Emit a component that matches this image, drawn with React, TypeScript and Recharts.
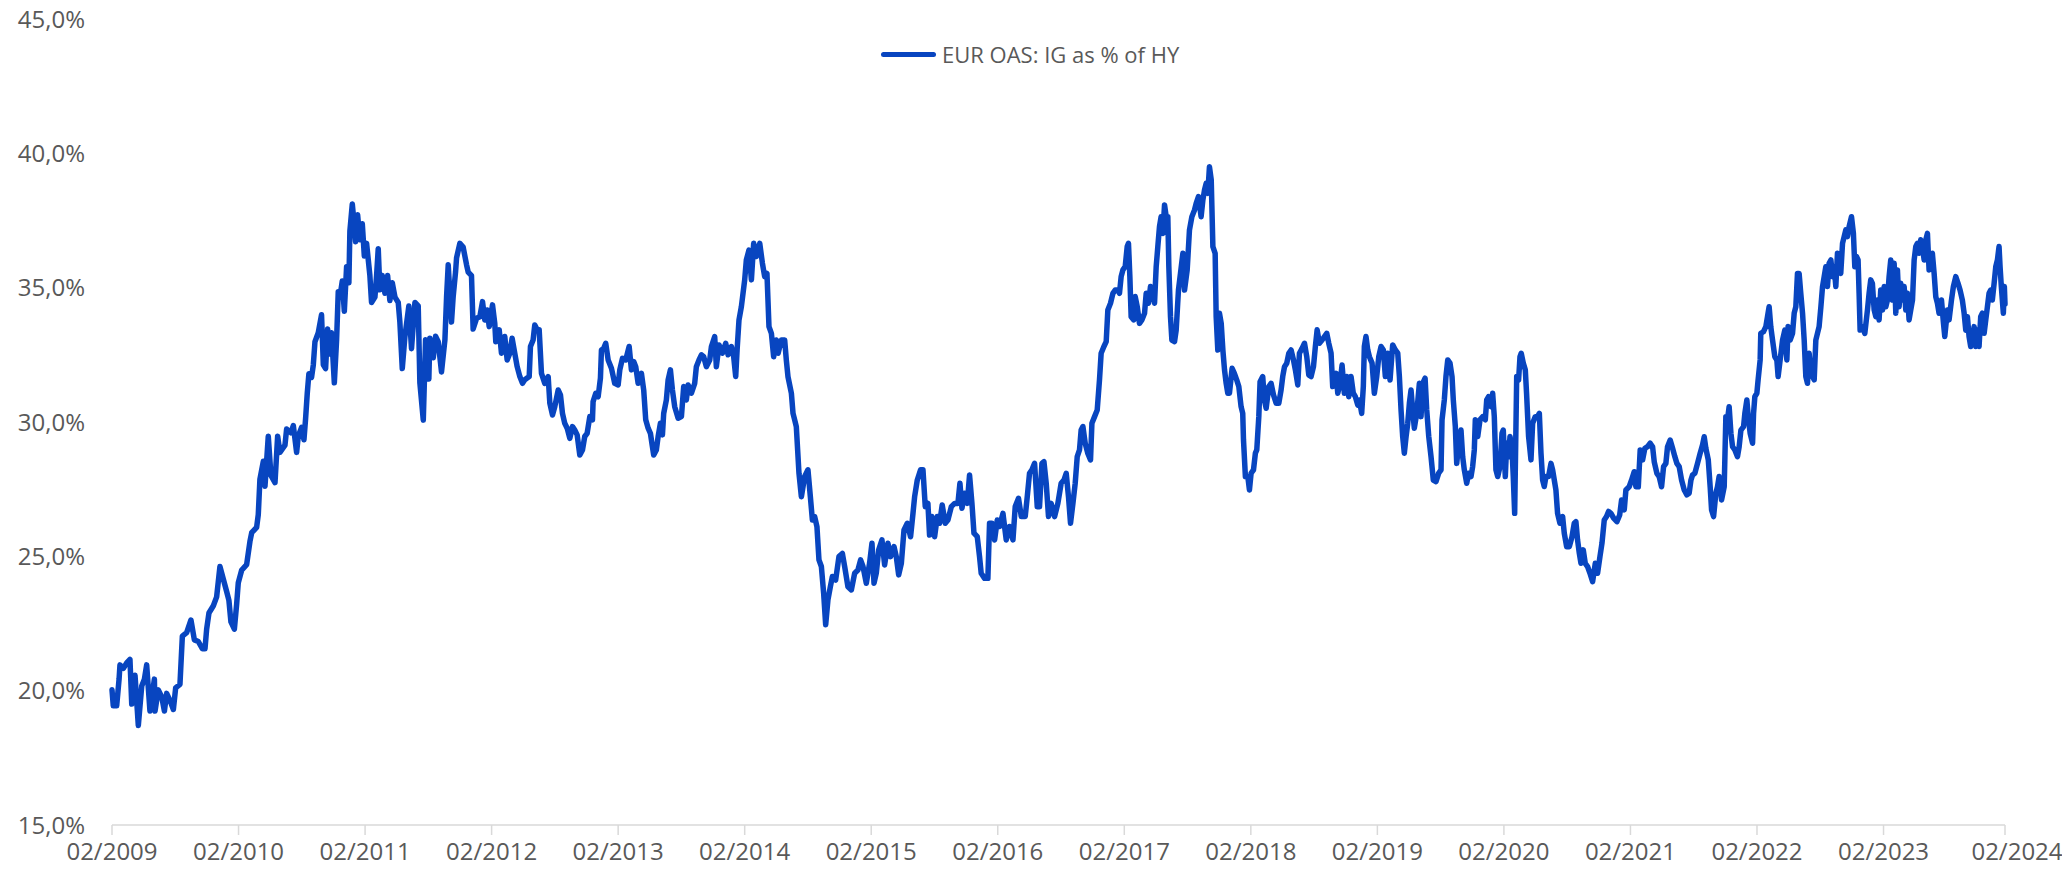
import { Line, LineChart, XAxis, YAxis } from "recharts";

// EUR OAS: IG spread as % of HY spread, [decimal year, %]
const obs2009to2011: [number, number][] = [
  [2009.085, 20.03], [2009.095, 19.44], [2009.122, 19.44], [2009.141, 20.43], [2009.148, 20.96], [2009.175, 20.83],
  [2009.201, 21.03], [2009.227, 21.16], [2009.241, 19.5], [2009.267, 20.57], [2009.293, 18.7], [2009.32, 20.17],
  [2009.341, 20.43], [2009.359, 20.96], [2009.385, 19.24], [2009.42, 20.43], [2009.425, 19.24], [2009.451, 20.03],
  [2009.478, 19.77], [2009.499, 19.24], [2009.517, 19.9], [2009.543, 19.64], [2009.57, 19.3], [2009.588, 20.1],
  [2009.622, 20.23], [2009.641, 22.03], [2009.675, 22.16], [2009.709, 22.63], [2009.736, 21.89], [2009.767, 21.83],
  [2009.799, 21.56], [2009.82, 21.56], [2009.833, 22.29], [2009.851, 22.89], [2009.886, 23.16], [2009.912, 23.49],
  [2009.938, 24.62], [2009.965, 24.15], [2009.991, 23.69], [2010.009, 23.36], [2010.025, 22.56], [2010.052, 22.29],
  [2010.07, 23.22], [2010.083, 24.02], [2010.11, 24.49], [2010.149, 24.69], [2010.175, 25.55], [2010.189, 25.88],
  [2010.228, 26.08], [2010.241, 26.55], [2010.254, 27.87], [2010.281, 28.54], [2010.294, 27.61], [2010.32, 29.47],
  [2010.341, 28.01], [2010.373, 27.74], [2010.394, 29.47], [2010.412, 28.87], [2010.452, 29.14], [2010.465, 29.74],
  [2010.499, 29.6], [2010.518, 29.87], [2010.544, 28.87], [2010.557, 29.47], [2010.583, 29.8], [2010.602, 29.34],
  [2010.615, 30.13], [2010.628, 31.06], [2010.641, 31.8], [2010.662, 31.66], [2010.676, 32.13], [2010.689, 32.99],
  [2010.715, 33.32], [2010.741, 33.99], [2010.755, 32.13], [2010.773, 31.99], [2010.789, 33.46], [2010.807, 32.53],
  [2010.82, 33.32], [2010.842, 31.46], [2010.86, 33.06], [2010.873, 34.85], [2010.886, 34.65], [2010.905, 35.25],
  [2010.921, 34.12], [2010.939, 35.78], [2010.957, 35.18], [2010.965, 37.11], [2010.984, 38.11], [2011.0, 37.31],
  [2011.01, 36.71], [2011.026, 37.71], [2011.044, 36.78], [2011.063, 37.38], [2011.079, 36.18], [2011.097, 36.65],
  [2011.123, 35.45], [2011.136, 34.45], [2011.163, 34.65], [2011.176, 35.45], [2011.189, 36.45], [2011.202, 34.92],
  [2011.221, 35.45], [2011.242, 34.79], [2011.263, 35.45], [2011.281, 34.52], [2011.3, 35.18], [2011.321, 34.65],
  [2011.347, 34.45], [2011.36, 33.72], [2011.379, 31.99], [2011.4, 33.19], [2011.431, 34.32], [2011.452, 32.73],
  [2011.479, 34.45], [2011.505, 34.32], [2011.518, 31.46], [2011.545, 30.07], [2011.563, 33.06], [2011.589, 31.6],
  [2011.597, 33.12], [2011.624, 32.39], [2011.642, 33.19], [2011.663, 32.99], [2011.689, 31.86], [2011.716, 33.06],
  [2011.729, 34.65], [2011.742, 35.85], [2011.768, 33.72], [2011.781, 34.65], [2011.8, 35.58], [2011.808, 36.11],
  [2011.834, 36.65], [2011.86, 36.51], [2011.887, 35.85], [2011.9, 35.58], [2011.926, 35.45], [2011.939, 33.46],
  [2011.966, 33.86],
];

const obs2012to2014: [number, number][] = [
  [2011.992, 33.92], [2012.013, 34.48], [2012.031, 33.8], [2012.05, 34.17], [2012.066, 33.55], [2012.092, 34.36],
  [2012.11, 33.67], [2012.118, 32.99], [2012.145, 33.43], [2012.163, 32.56], [2012.189, 33.18], [2012.208, 32.31],
  [2012.229, 32.56], [2012.247, 33.12], [2012.268, 32.56], [2012.287, 32.06], [2012.308, 31.69], [2012.329, 31.44],
  [2012.347, 31.57], [2012.382, 31.69], [2012.392, 32.81], [2012.413, 33.05], [2012.426, 33.61], [2012.445, 33.43],
  [2012.461, 33.43], [2012.479, 31.81], [2012.505, 31.44], [2012.532, 31.69], [2012.545, 30.7], [2012.566, 30.26],
  [2012.584, 30.57], [2012.611, 31.19], [2012.629, 31.01], [2012.645, 30.32], [2012.663, 29.95], [2012.682, 29.77],
  [2012.703, 29.39], [2012.724, 29.83], [2012.742, 29.7], [2012.761, 29.52], [2012.782, 28.77], [2012.803, 28.96],
  [2012.821, 29.46], [2012.84, 29.58], [2012.861, 30.2], [2012.882, 30.08], [2012.887, 30.76], [2012.908, 31.07],
  [2012.927, 30.94], [2012.945, 31.63], [2012.953, 32.68], [2012.971, 32.74], [2012.987, 32.93], [2013.006, 32.31],
  [2013.032, 32.0], [2013.058, 31.44], [2013.085, 31.38], [2013.098, 31.94], [2013.119, 32.37], [2013.145, 32.31],
  [2013.172, 32.81], [2013.19, 31.94], [2013.208, 32.25], [2013.224, 32.06], [2013.243, 31.44], [2013.269, 31.81],
  [2013.287, 31.19], [2013.303, 30.08], [2013.322, 29.77], [2013.34, 29.58], [2013.356, 29.08], [2013.366, 28.77],
  [2013.387, 28.96], [2013.401, 29.46], [2013.419, 29.95], [2013.435, 29.52], [2013.445, 30.32], [2013.466, 30.82],
  [2013.48, 31.57], [2013.498, 31.94], [2013.514, 31.19], [2013.532, 30.57], [2013.559, 30.14], [2013.585, 30.2],
  [2013.603, 31.32], [2013.624, 30.82], [2013.638, 31.38], [2013.664, 31.07], [2013.69, 31.44], [2013.703, 32.06],
  [2013.724, 32.31], [2013.743, 32.5], [2013.761, 32.43], [2013.782, 32.06], [2013.809, 32.31], [2013.822, 32.81],
  [2013.848, 33.18], [2013.861, 32.06], [2013.882, 32.87], [2013.909, 32.56], [2013.935, 32.93], [2013.954, 32.5],
  [2013.98, 32.81], [2013.998, 32.43], [2014.014, 31.69], [2014.025, 32.68], [2014.04, 33.8], [2014.059, 34.3],
  [2014.085, 35.29], [2014.098, 36.03], [2014.119, 36.4], [2014.138, 35.29], [2014.156, 36.65], [2014.177, 36.16],
  [2014.204, 36.65], [2014.225, 35.91], [2014.243, 35.41], [2014.261, 35.53], [2014.277, 33.55], [2014.296, 33.3],
  [2014.314, 32.43], [2014.335, 33.05], [2014.349, 32.56], [2014.375, 33.05], [2014.401, 33.05], [2014.414, 32.31],
  [2014.427, 31.69], [2014.454, 31.07], [2014.467, 30.32], [2014.48, 30.08], [2014.493, 29.83], [2014.514, 28.09],
  [2014.533, 27.22], [2014.559, 27.97], [2014.585, 28.22], [2014.604, 27.22], [2014.62, 26.35], [2014.638, 26.48],
  [2014.656, 26.11], [2014.672, 24.87], [2014.691, 24.62], [2014.709, 23.63], [2014.725, 22.45], [2014.743, 23.38],
  [2014.762, 23.87], [2014.778, 24.25], [2014.804, 24.12], [2014.83, 24.99], [2014.857, 25.11], [2014.875, 24.62],
  [2014.901, 23.87], [2014.928, 23.75], [2014.954, 24.37],
];

const obs2015to2017: [number, number][] = [
  [2014.98, 24.49], [2015.001, 24.87], [2015.02, 24.62], [2015.046, 24.0], [2015.072, 24.74], [2015.091, 25.49],
  [2015.107, 24.0], [2015.125, 24.37], [2015.144, 25.24], [2015.17, 25.61], [2015.191, 24.68], [2015.217, 25.49],
  [2015.238, 24.99], [2015.265, 25.36], [2015.283, 24.99], [2015.302, 24.31], [2015.323, 24.74], [2015.344, 25.98],
  [2015.37, 26.23], [2015.396, 25.73], [2015.415, 26.6], [2015.428, 27.22], [2015.449, 27.84], [2015.475, 28.22],
  [2015.494, 28.22], [2015.512, 26.85], [2015.533, 26.97], [2015.546, 25.79], [2015.565, 26.48], [2015.586, 25.73],
  [2015.607, 26.48], [2015.625, 26.23], [2015.646, 26.91], [2015.67, 26.23], [2015.691, 26.35], [2015.718, 26.85],
  [2015.744, 26.97], [2015.77, 26.97], [2015.786, 27.72], [2015.802, 26.79], [2015.823, 27.35], [2015.844, 26.97],
  [2015.862, 28.03], [2015.881, 26.97], [2015.897, 25.86], [2015.923, 25.73], [2015.941, 24.99], [2015.954, 24.37],
  [2015.981, 24.18], [2016.007, 24.18], [2016.02, 26.23], [2016.039, 26.23], [2016.06, 25.61], [2016.081, 26.35],
  [2016.099, 26.11], [2016.126, 26.6], [2016.152, 25.61], [2016.178, 26.11], [2016.205, 25.61], [2016.223, 26.85],
  [2016.249, 27.16], [2016.271, 26.48], [2016.302, 26.48], [2016.318, 27.22], [2016.336, 28.09], [2016.355, 28.22],
  [2016.376, 28.46], [2016.397, 26.85], [2016.415, 26.85], [2016.434, 28.46], [2016.45, 28.52], [2016.468, 27.72],
  [2016.486, 26.48], [2016.507, 26.97], [2016.534, 26.48], [2016.56, 26.97], [2016.586, 27.72], [2016.608, 27.84],
  [2016.626, 28.09], [2016.644, 27.22], [2016.66, 26.23], [2016.679, 26.97], [2016.697, 27.72], [2016.713, 28.71],
  [2016.731, 28.96], [2016.744, 29.7], [2016.758, 29.83], [2016.776, 29.21], [2016.797, 28.83], [2016.818, 28.59],
  [2016.829, 29.95], [2016.85, 30.2], [2016.871, 30.45], [2016.889, 31.57], [2016.902, 32.56], [2016.924, 32.81],
  [2016.942, 32.99], [2016.955, 34.17], [2016.976, 34.42], [2016.995, 34.79], [2017.013, 34.91], [2017.034, 34.91],
  [2017.047, 34.79], [2017.06, 35.41], [2017.074, 35.66], [2017.092, 35.78], [2017.108, 36.53], [2017.118, 36.65],
  [2017.129, 35.41], [2017.139, 33.92], [2017.16, 33.8], [2017.171, 34.67], [2017.187, 34.3], [2017.205, 33.67],
  [2017.224, 33.8], [2017.245, 34.05], [2017.258, 34.79], [2017.276, 34.42], [2017.292, 35.04], [2017.311, 34.91],
  [2017.324, 34.42], [2017.337, 35.78], [2017.35, 36.53], [2017.363, 37.27], [2017.376, 37.64], [2017.39, 37.02],
  [2017.403, 38.08], [2017.416, 37.64], [2017.429, 37.64], [2017.437, 35.78], [2017.45, 33.92], [2017.461, 33.05],
  [2017.482, 32.99], [2017.495, 33.42], [2017.513, 34.91], [2017.529, 35.53], [2017.548, 36.28], [2017.561, 34.91],
  [2017.582, 35.66], [2017.6, 37.15], [2017.619, 37.64], [2017.64, 37.89], [2017.653, 38.14], [2017.671, 38.39],
  [2017.692, 37.64], [2017.706, 38.26], [2017.719, 38.64], [2017.732, 38.88], [2017.745, 38.51], [2017.758, 39.5],
  [2017.772, 39.01], [2017.785, 36.53], [2017.803, 36.28], [2017.811, 33.92], [2017.824, 32.68], [2017.837, 34.05],
  [2017.851, 33.67], [2017.864, 32.68], [2017.877, 31.94], [2017.89, 31.44], [2017.903, 31.07],
];

const obs2018to2020: [number, number][] = [
  [2017.916, 31.07], [2017.937, 32.0], [2017.955, 31.81], [2017.974, 31.56], [2017.99, 31.32], [2018.008, 30.57],
  [2018.021, 30.32], [2018.027, 29.33], [2018.042, 27.97], [2018.061, 27.97], [2018.074, 27.47], [2018.087, 28.09],
  [2018.106, 28.22], [2018.121, 28.84], [2018.132, 28.96], [2018.148, 30.2], [2018.158, 31.5], [2018.179, 31.69],
  [2018.192, 30.82], [2018.206, 30.51], [2018.227, 31.32], [2018.245, 31.44], [2018.264, 31.01], [2018.285, 30.7],
  [2018.306, 30.7], [2018.324, 31.19], [2018.337, 31.69], [2018.351, 32.06], [2018.369, 32.19], [2018.385, 32.56],
  [2018.403, 32.68], [2018.422, 32.31], [2018.437, 31.94], [2018.456, 31.38], [2018.469, 32.56], [2018.49, 32.74],
  [2018.509, 32.93], [2018.527, 32.43], [2018.543, 31.75], [2018.561, 31.69], [2018.58, 32.06], [2018.595, 32.81],
  [2018.609, 33.43], [2018.627, 32.93], [2018.648, 33.05], [2018.667, 33.18], [2018.685, 33.3], [2018.701, 32.93],
  [2018.719, 32.56], [2018.732, 31.32], [2018.745, 31.56], [2018.759, 31.81], [2018.772, 31.07], [2018.79, 31.44],
  [2018.806, 32.12], [2018.824, 31.07], [2018.843, 31.69], [2018.859, 30.94], [2018.877, 31.69], [2018.895, 31.07],
  [2018.911, 30.94], [2018.93, 30.63], [2018.943, 30.82], [2018.961, 30.32], [2018.974, 31.32], [2018.982, 32.81],
  [2018.995, 33.18], [2019.009, 32.68], [2019.022, 32.43], [2019.043, 32.19], [2019.061, 31.07], [2019.08, 31.69],
  [2019.096, 32.43], [2019.114, 32.81], [2019.132, 32.68], [2019.148, 31.69], [2019.167, 32.56], [2019.185, 31.56],
  [2019.206, 32.87], [2019.227, 32.68], [2019.246, 32.56], [2019.259, 31.69], [2019.272, 30.45], [2019.285, 29.46],
  [2019.298, 28.84], [2019.312, 29.46], [2019.325, 29.95], [2019.338, 30.7], [2019.351, 31.19], [2019.364, 30.45],
  [2019.377, 29.77], [2019.396, 30.32], [2019.417, 31.44], [2019.43, 30.2], [2019.443, 31.44], [2019.462, 31.63],
  [2019.475, 30.45], [2019.491, 29.46], [2019.509, 28.71], [2019.527, 27.84], [2019.548, 27.78], [2019.569, 28.09],
  [2019.588, 28.22], [2019.596, 30.08], [2019.614, 30.82], [2019.627, 31.69], [2019.641, 32.31], [2019.659, 32.19],
  [2019.675, 31.69], [2019.685, 30.82], [2019.701, 29.83], [2019.712, 28.46], [2019.728, 29.21], [2019.746, 29.7],
  [2019.759, 28.71], [2019.772, 28.22], [2019.791, 27.72], [2019.807, 28.09], [2019.825, 27.97], [2019.838, 28.34],
  [2019.851, 28.96], [2019.859, 30.08], [2019.878, 29.46], [2019.896, 30.08], [2019.917, 30.2], [2019.938, 30.08],
  [2019.949, 30.82], [2019.964, 30.94], [2019.983, 30.57], [2019.996, 31.07], [2020.009, 30.2], [2020.022, 28.22],
  [2020.036, 27.97], [2020.054, 28.34], [2020.07, 29.58], [2020.08, 29.7], [2020.096, 27.97], [2020.107, 29.21],
  [2020.122, 28.71], [2020.133, 29.46], [2020.149, 28.96], [2020.159, 27.97], [2020.17, 26.6], [2020.186, 31.69],
  [2020.201, 31.56], [2020.212, 32.43], [2020.222, 32.56], [2020.238, 32.19], [2020.254, 31.94], [2020.264, 31.07],
  [2020.28, 29.46], [2020.299, 28.59], [2020.312, 29.95], [2020.333, 30.2], [2020.351, 30.2], [2020.365, 30.32],
  [2020.378, 28.84], [2020.391, 27.84], [2020.404, 27.6], [2020.417, 27.97], [2020.438, 27.97], [2020.457, 28.46],
  [2020.47, 28.22], [2020.483, 27.84], [2020.496, 27.47], [2020.509, 26.6], [2020.528, 26.23], [2020.549, 26.48],
  [2020.562, 25.86], [2020.581, 25.36], [2020.602, 25.36], [2020.623, 25.73], [2020.641, 26.23], [2020.654, 26.29],
  [2020.667, 25.61], [2020.681, 25.11], [2020.694, 24.74], [2020.712, 25.24], [2020.728, 24.74], [2020.746, 24.62],
  [2020.765, 24.37], [2020.786, 24.06], [2020.807, 24.74], [2020.825, 24.37], [2020.844, 24.99], [2020.86, 25.49],
  [2020.878, 26.35], [2020.896, 26.48], [2020.912, 26.67],
];

const obs2021to2024: [number, number][] = [
  [2020.931, 26.6], [2020.952, 26.42], [2020.978, 26.29], [2021.0, 26.54], [2021.015, 27.1], [2021.036, 26.73],
  [2021.049, 27.47], [2021.075, 27.59], [2021.094, 27.84], [2021.115, 28.15], [2021.128, 27.59], [2021.147, 27.59],
  [2021.162, 28.96], [2021.181, 28.59], [2021.199, 29.02], [2021.22, 29.08], [2021.241, 29.21], [2021.26, 29.08],
  [2021.273, 28.52], [2021.294, 28.09], [2021.312, 27.97], [2021.331, 27.59], [2021.347, 28.34], [2021.365, 28.46],
  [2021.378, 29.08], [2021.399, 29.33], [2021.418, 29.02], [2021.436, 28.71], [2021.452, 28.46], [2021.47, 28.34],
  [2021.489, 27.84], [2021.51, 27.47], [2021.531, 27.29], [2021.549, 27.35], [2021.563, 27.84], [2021.576, 28.03],
  [2021.594, 28.09], [2021.615, 28.46], [2021.636, 28.84], [2021.655, 29.15], [2021.668, 29.45], [2021.681, 29.02],
  [2021.7, 28.59], [2021.715, 27.59], [2021.726, 26.73], [2021.742, 26.48], [2021.76, 27.35], [2021.773, 27.59],
  [2021.786, 27.97], [2021.805, 27.1], [2021.826, 27.59], [2021.839, 30.2], [2021.852, 30.08], [2021.865, 30.57],
  [2021.879, 29.58], [2021.892, 29.08], [2021.91, 28.96], [2021.931, 28.71], [2021.944, 29.08], [2021.958, 29.7],
  [2021.979, 29.83], [2021.989, 30.32], [2022.005, 30.82], [2022.016, 30.2], [2022.031, 29.58], [2022.05, 29.21],
  [2022.058, 30.32], [2022.068, 30.94], [2022.084, 31.07], [2022.094, 31.57], [2022.11, 32.31], [2022.115, 33.3],
  [2022.136, 33.36], [2022.155, 33.55], [2022.168, 33.92], [2022.181, 34.29], [2022.194, 33.55], [2022.208, 33.05],
  [2022.226, 32.43], [2022.242, 32.31], [2022.252, 31.69], [2022.268, 32.31], [2022.287, 33.05], [2022.305, 33.42],
  [2022.321, 32.31], [2022.331, 33.55], [2022.347, 33.05], [2022.366, 33.3], [2022.379, 34.05], [2022.392, 34.29],
  [2022.405, 35.53], [2022.418, 35.53], [2022.431, 34.79], [2022.445, 34.05], [2022.458, 33.05], [2022.471, 31.69],
  [2022.484, 31.44], [2022.497, 32.56], [2022.51, 31.81], [2022.524, 31.69], [2022.537, 31.57], [2022.55, 33.05],
  [2022.563, 33.3], [2022.576, 33.55], [2022.59, 34.29], [2022.603, 35.04], [2022.616, 35.41], [2022.629, 35.78],
  [2022.642, 35.04], [2022.655, 35.91], [2022.669, 36.03], [2022.682, 35.41], [2022.695, 35.78], [2022.708, 35.04],
  [2022.721, 36.28], [2022.734, 36.16], [2022.747, 35.53], [2022.761, 36.65], [2022.774, 36.9], [2022.787, 37.15],
  [2022.8, 36.9], [2022.813, 37.27], [2022.832, 37.64], [2022.847, 37.02], [2022.858, 35.78], [2022.871, 36.16],
  [2022.884, 36.03], [2022.892, 34.79], [2022.9, 33.42], [2022.919, 33.55], [2022.937, 33.3], [2022.958, 34.17],
  [2022.971, 34.79], [2022.984, 35.29], [2022.997, 35.16], [2023.011, 34.17], [2023.024, 33.92], [2023.037, 34.54],
  [2023.05, 33.8], [2023.063, 34.91], [2023.077, 34.17], [2023.09, 35.04], [2023.103, 34.29], [2023.116, 34.54],
  [2023.129, 35.41], [2023.142, 36.03], [2023.156, 34.54], [2023.169, 35.91], [2023.182, 34.05], [2023.195, 35.66],
  [2023.208, 34.29], [2023.221, 35.16], [2023.235, 34.54], [2023.248, 35.04], [2023.261, 34.17], [2023.274, 34.79],
  [2023.287, 33.8], [2023.3, 34.17], [2023.314, 34.54], [2023.327, 36.03], [2023.34, 36.53], [2023.353, 36.65],
  [2023.366, 36.28], [2023.379, 36.78], [2023.392, 36.53], [2023.406, 36.03], [2023.419, 36.78], [2023.432, 37.02],
  [2023.445, 35.66], [2023.458, 36.16], [2023.471, 36.28], [2023.485, 35.53], [2023.498, 34.66], [2023.511, 34.42],
  [2023.524, 34.05], [2023.543, 34.54], [2023.559, 33.67], [2023.569, 33.18], [2023.59, 34.17], [2023.603, 33.8],
  [2023.622, 34.54], [2023.637, 35.04], [2023.656, 35.41], [2023.674, 35.16], [2023.69, 34.91], [2023.708, 34.54],
  [2023.722, 34.05], [2023.735, 33.42], [2023.748, 33.92], [2023.761, 33.18], [2023.774, 32.81], [2023.787, 33.05],
  [2023.801, 33.55], [2023.814, 32.81], [2023.827, 33.42], [2023.84, 32.81], [2023.853, 33.92], [2023.866, 34.05],
  [2023.88, 33.3], [2023.893, 33.8], [2023.906, 34.29], [2023.919, 34.79], [2023.932, 34.91], [2023.945, 34.54],
  [2023.959, 35.16], [2023.972, 35.78], [2023.985, 36.03], [2023.998, 36.53], [2024.006, 35.78], [2024.016, 35.04],
  [2024.024, 34.54], [2024.032, 34.05], [2024.04, 35.04], [2024.045, 34.4],
];

const xTickDates = [
  2009.085, 2010.085, 2011.085, 2012.085, 2013.085, 2014.085, 2015.085, 2016.085,
  2017.085, 2018.085, 2019.085, 2020.085, 2021.085, 2022.085, 2023.085, 2024.045,
];
const xTickLabels = [
  "02/2009", "02/2010", "02/2011", "02/2012", "02/2013", "02/2014", "02/2015", "02/2016",
  "02/2017", "02/2018", "02/2019", "02/2020", "02/2021", "02/2022", "02/2023", "02/2024",
];
const yTicks = [15, 20, 25, 30, 35, 40, 45];

const seriesName = "EUR OAS: IG as % of HY";
const blue = "#0845c0";
const grey = "#595959";
const font = "'Open Sans', 'Noto Sans', sans-serif";

const data = [...obs2009to2011, ...obs2012to2014, ...obs2015to2017, ...obs2018to2020, ...obs2021to2024].map(
  ([t, v]) => ({ t, v })
);

const pct = (v: number) => `${v.toFixed(1).replace(".", ",")}%`;

// x tick text; the last label sits a bit right of its tick and runs off the edge, as in the source
function DateTick({ x, y, payload }: { x?: number; y?: number; payload?: { value: number } }) {
  const i = xTickDates.indexOf(payload?.value ?? -1);
  const last = i === xTickDates.length - 1;
  return (
    <text
      x={(x ?? 0) + (last ? 12 : 0)}
      y={y}
      dy="0.71em"
      textAnchor="middle"
      fill={grey}
      fontSize={24}
      fontFamily={font}
    >
      {xTickLabels[i] ?? ""}
    </text>
  );
}

export default function App() {
  return (
    <div style={{ position: "absolute", left: 0, top: 0, width: 2062, height: 872, background: "#fff", overflow: "hidden" }}>
      <LineChart width={2062} height={872} data={data} margin={{ top: 19, right: 57, bottom: 0, left: 0 }}>
        <XAxis
          dataKey="t"
          type="number"
          domain={[2009.085, 2024.045]}
          ticks={xTickDates}
          interval={0}
          height={47}
          axisLine={{ stroke: "#d9d9d9", strokeWidth: 1.5 }}
          tickLine={{ stroke: "#d9d9d9", strokeWidth: 1.5 }}
          tickSize={10}
          tickMargin={8}
          tick={<DateTick />}
        />
        <YAxis
          type="number"
          domain={[15, 45]}
          ticks={yTicks}
          interval={0}
          tickFormatter={pct}
          width={112}
          axisLine={false}
          tickLine={false}
          tickSize={0}
          tickMargin={27}
          tick={{ fill: grey, fontSize: 24, fontFamily: font }}
        />
        <Line
          type="linear"
          dataKey="v"
          name={seriesName}
          stroke={blue}
          strokeWidth={5.5}
          strokeLinejoin="round"
          strokeLinecap="round"
          dot={false}
          activeDot={false}
          isAnimationActive={false}
        />
      </LineChart>
      <div
        style={{
          position: "absolute",
          left: 881,
          top: 39,
          height: 30,
          display: "flex",
          alignItems: "center",
          fontFamily: font,
          fontSize: 22,
          color: grey,
          whiteSpace: "nowrap",
        }}
      >
        <span style={{ display: "inline-block", width: 55, height: 5, borderRadius: 3, background: blue, marginRight: 6 }} />
        <span>{seriesName}</span>
      </div>
    </div>
  );
}
